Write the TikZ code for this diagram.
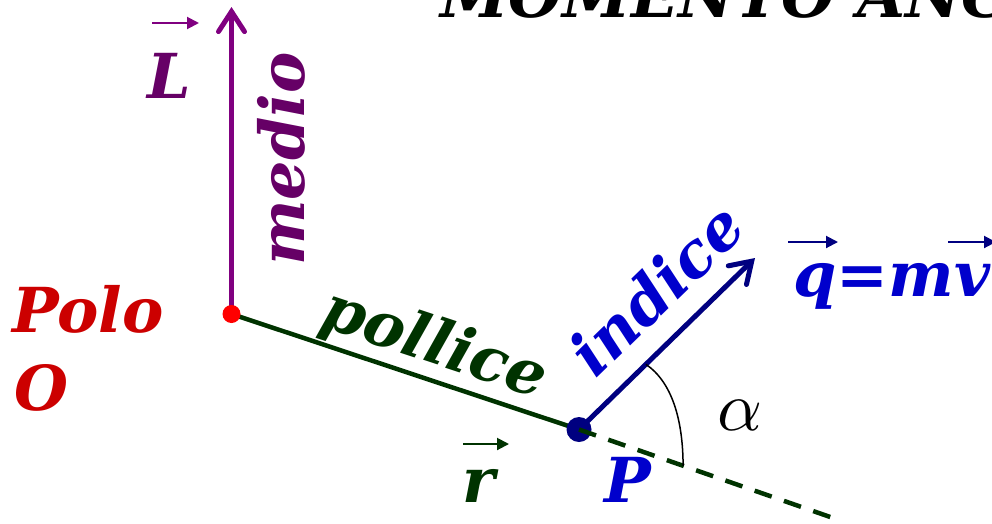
\documentclass[tikz,border=0pt]{standalone}
\usepackage{fontspec}
\setmainfont{DejaVu Serif}
\usetikzlibrary{arrows.meta,calc}
\definecolor{purpline}{HTML}{800080}
\definecolor{purptext}{HTML}{660066}
\definecolor{redpt}{HTML}{FF0000}
\definecolor{redtext}{HTML}{CC0000}
\definecolor{greenl}{HTML}{003300}
\definecolor{bluetext}{HTML}{0000CC}
\definecolor{navy}{HTML}{000080}
\tikzset{
  big/.style={font=\fontsize{62}{66}\selectfont\bfseries\itshape, inner sep=0pt},
  vecarrow/.style={line width=2pt, -{Triangle[length=12pt,width=12pt]}},
  chev/.style={-{Straight Barb[length=20pt,width=26pt,line cap=round]}}
}
\begin{document}
\begin{tikzpicture}[x=1pt,y=-1pt]
\useasboundingbox (0,0) rectangle (992,523);
% title (cropped)
\node[big, anchor=base west] (title) at (440,17) {MOMENTO ANGOLARE};
% points
\coordinate (O) at (231.5,314);
\coordinate (P) at (579,429.5);
\coordinate (Ltop) at (231.5,7);
\coordinate (Q) at (755,258);
\coordinate (D) at (836,519);
% lines
\draw[purpline, line width=5pt, chev] (O) -- (Ltop);
\draw[greenl, line width=4.5pt] (O) -- (P);
\draw[navy, line width=5pt, chev] (P) -- (Q);
\fill[navy] (P) circle (12.5);
\draw[greenl, line width=4.5pt, dash pattern=on 18pt off 13pt] (P) -- (D);
\fill[redpt] (O) circle (9);
% angle arc
\coordinate (A1) at ($(P)!0.38!(Q)$);
\coordinate (A2) at ($(P)!0.405!(D)$);
\draw[black, line width=1.5pt] (A1) .. controls (672,382) and (683,420) .. (A2);
% labels
\node[big, redtext, anchor=base west] (polo) at (12,332) {Polo};
\node[big, redtext, anchor=base west] (o) at (14,410) {O};
\node[big, purptext, anchor=base west] (L) at (147,98) {L};
\draw[purpline, vecarrow] (152,23) -- (199,23);
\node[big, purptext, rotate=90, anchor=base west] (medio) at (304,266) {medio};
\node[big, greenl, rotate=-18.3] (pollice) at (434,346) {pollice};
\node[big, bluetext, rotate=44.2] (indice) at (656,289) {indice};
\node[big, bluetext, anchor=base west] (qmv) at (793,296) {q=mv};
\draw[navy, vecarrow] (788,242) -- (838,242);
\draw[navy, vecarrow] (948,242) -- (996,242);
\node[big, greenl, anchor=base west] (r) at (462,502) {r};
\draw[greenl, vecarrow] (463,444) -- (509,444);
\node[big, bluetext, anchor=base west] (Plabel) at (604,502) {P};
\node[scale=7, anchor=base west, inner sep=0pt] (alpha) at (716,430) {$\alpha$};
\end{tikzpicture}
\end{document}
